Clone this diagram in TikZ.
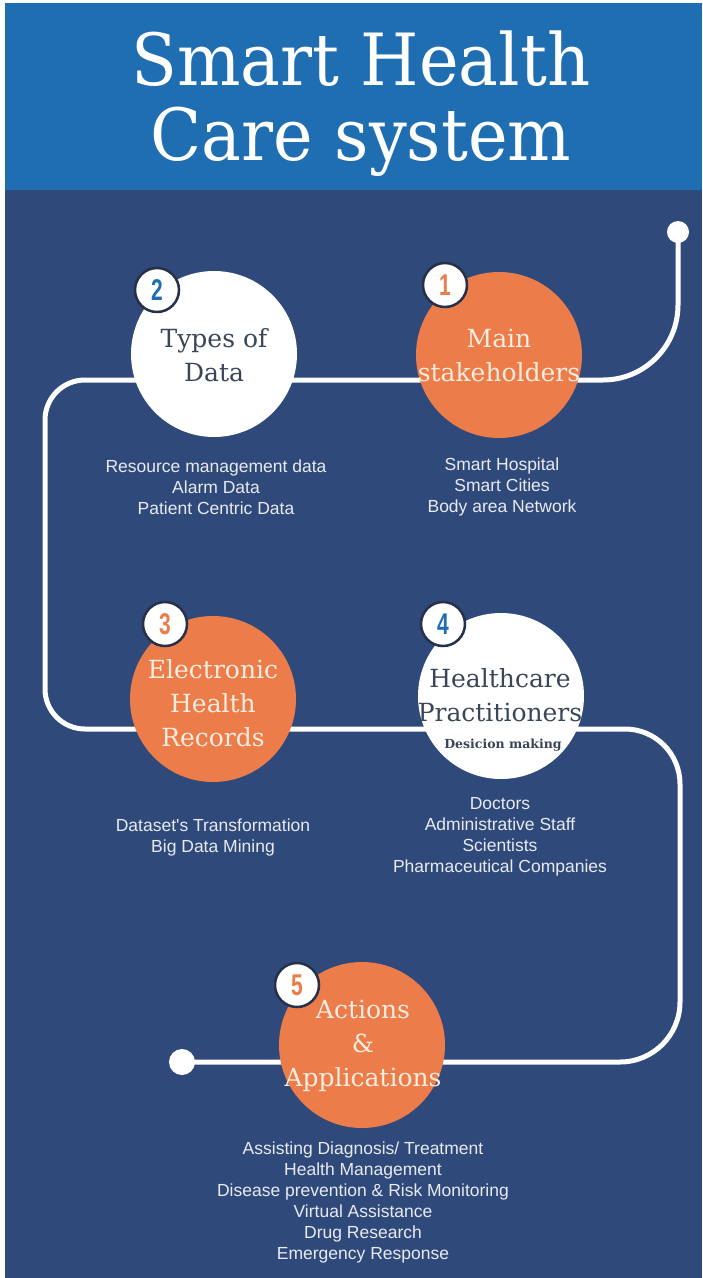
\documentclass[tikz,border=0pt]{standalone}
\usepackage{fontspec}
\setmainfont{DejaVu Serif}
\newfontfamily\listfont{Liberation Sans}
\newfontfamily\numfont{Liberation Sans}

\definecolor{headerblue}{RGB}{31,110,177}
\definecolor{navy}{RGB}{47,74,122}
\definecolor{stageorange}{RGB}{236,124,74}
\definecolor{creamtext}{RGB}{250,236,222}
\definecolor{slatetext}{RGB}{58,70,88}
\definecolor{badgeedge}{RGB}{38,48,72}
\definecolor{listgray}{RGB}{232,234,240}

\tikzset{
  stage/.style={circle, minimum size=166pt, inner sep=0pt},
  orangestage/.style={stage, fill=stageorange},
  whitestage/.style={stage, fill=white},
  stagetext/.style={align=center, inner sep=0pt, font=\fontsize{25}{34}\selectfont},
  badge/.style={circle, fill=white, draw=badgeedge, line width=2.5pt,
    minimum size=44pt, inner sep=0pt},
  badgenum/.style={font=\numfont\bfseries\fontsize{30}{30}\selectfont},
  listtext/.style={align=center, inner sep=0pt, text=listgray,
    font=\listfont\fontsize{17.5}{21}\selectfont},
  track/.style={draw=white, line width=5pt},
  dot/.style={circle, fill=white, inner sep=0pt},
}

\begin{document}
\begin{tikzpicture}[x=1pt, y=-1pt]
% page and panels
\fill[white] (0,0) rectangle (703,1278);
\fill[navy] (5,3) rectangle (702,1278);
\fill[headerblue] (5,3) rectangle (702,190);
\useasboundingbox (0,0) rectangle (703,1278);

% title
\begin{scope}[shift={(361,104)}, xscale=0.93]
  \node[transform shape, text=white, align=center, inner sep=0pt,
        font=\fontsize{72}{75}\selectfont] (title) at (0,0)
        {Smart Health\\Care system};
\end{scope}

% end points of the track
\node[dot, minimum size=22pt] (start) at (678,232) {};
\node[dot, minimum size=26pt] (finish) at (182,1062) {};

% winding track (y grows downward, so angles run the other way)
\draw[track] (start.center) -- (678,305)
  arc[start angle=0, end angle=90, radius=75]
  -- (85,380) arc[start angle=270, end angle=180, radius=40]
  -- (45,689) arc[start angle=180, end angle=90, radius=40]
  -- (625,729) arc[start angle=270, end angle=360, radius=55]
  -- (680,1002) arc[start angle=0, end angle=90, radius=60]
  -- (finish.center);

% stage circles
\node[orangestage] (c1) at (499,355) {};
\node[whitestage]  (c2) at (214,354) {};
\node[orangestage] (c3) at (213,699) {};
\node[whitestage]  (c4) at (501,696) {};
\node[orangestage] (c5) at (362,1045) {};

% stage titles
\node[stagetext, text=creamtext] (t1) at (499,355) {Main\\stakeholders};
\node[stagetext, text=slatetext] (t2) at (214,355) {Types of\\Data};
\node[stagetext, text=creamtext] (t3) at (213,703) {Electronic\\Health\\Records};
\node[stagetext, text=slatetext] (t4) at (500,695) {Healthcare\\Practitioners};
\node[text=slatetext, inner sep=0pt, font=\bfseries\fontsize{12.5}{12.5}\selectfont]
  (t4b) at (503,745) {Desicion making};
\node[stagetext, text=creamtext] (t5) at (363,1046) {Actions\\\&\\Applications};

% number badges
\node[badge] (b1) at (445,285) {};
\node[badge] (b2) at (157,290) {};
\node[badge] (b3) at (165,624) {};
\node[badge] (b4) at (443,624) {};
\node[badge] (b5) at (297,985) {};
\node[badgenum, text=stageorange] at (b1) {\scalebox{0.7}[1]{1}};
\node[badgenum, text=headerblue]  at (b2) {\scalebox{0.7}[1]{2}};
\node[badgenum, text=stageorange] at (b3) {\scalebox{0.7}[1]{3}};
\node[badgenum, text=headerblue]  at (b4) {\scalebox{0.7}[1]{4}};
\node[badgenum, text=stageorange] at (b5) {\scalebox{0.7}[1]{5}};

% item lists
\node[listtext] (l1) at (502,487) {Smart Hospital\\Smart Cities\\Body area Network};
\node[listtext] (l2) at (216,487) {Resource management data\\Alarm Data\\Patient Centric Data};
\node[listtext] (l3) at (213,837) {Dataset's Transformation\\Big Data Mining};
\node[listtext] (l4) at (500,837) {Doctors\\Administrative Staff\\Scientists\\Pharmaceutical Companies};
\node[listtext] (l5) at (363,1202) {Assisting Diagnosis/ Treatment\\Health Management\\Disease prevention \& Risk Monitoring\\Virtual Assistance\\Drug Research\\Emergency Response};
\end{tikzpicture}
\end{document}
